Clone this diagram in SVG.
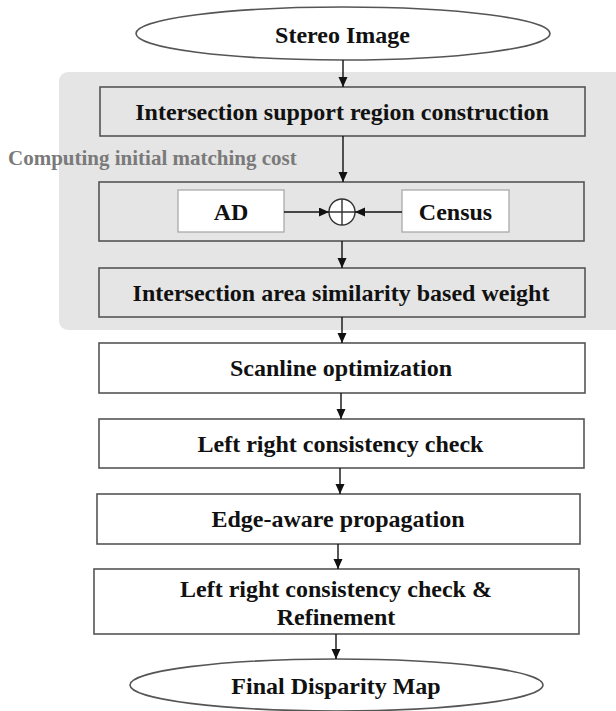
<svg xmlns="http://www.w3.org/2000/svg" width="616" height="711" viewBox="0 0 616 711">
<style>
.t{font-family:"Liberation Serif","Times New Roman",serif;font-weight:bold;font-size:24px;fill:#111;text-anchor:middle}
.s{font-family:"Liberation Serif","Times New Roman",serif;font-weight:bold;font-size:21px;fill:#7a7a7a}
.bx{fill:#fff;stroke:#555;stroke-width:1.6}
.gb{fill:#e5e5e5;stroke:#555;stroke-width:1.6}
.wb{fill:#fff;stroke:#aaa;stroke-width:1.3}
.el{fill:#fff;stroke:#555;stroke-width:1.6}
.c{stroke:#111;stroke-width:1.4;fill:none;marker-end:url(#ah)}
</style>
<defs>
<marker id="ah" markerUnits="userSpaceOnUse" markerWidth="11" markerHeight="10" refX="10" refY="4.5" orient="auto">
<path d="M0,0 L10,4.5 L0,9 z" fill="#111"/>
</marker>
</defs>
<rect width="616" height="711" fill="#fff"/>
<g id="group-cost">
<rect x="59" y="72" width="570" height="258" rx="9" fill="#e5e5e5"/>
<text class="s" x="8" y="165">Computing initial matching cost</text>
</g>
<g id="n-stereo">
<ellipse class="el" cx="343" cy="33.5" rx="207" ry="26.5"/>
<text class="t" x="342.5" y="43">Stereo Image</text>
</g>
<g id="n-support">
<rect class="gb" x="100" y="87" width="485" height="49"/>
<text class="t" x="342" y="120">Intersection support region construction</text>
</g>
<g id="n-cost">
<rect class="gb" x="99" y="182" width="485" height="59"/>
</g>
<g id="n-ad">
<rect class="wb" x="178" y="190" width="106" height="42"/>
<text class="t" x="231" y="220">AD</text>
</g>
<g id="n-census">
<rect class="wb" x="402" y="190" width="107" height="42"/>
<text class="t" x="455.5" y="220">Census</text>
</g>
<g id="n-sum">
<circle cx="342" cy="212" r="13" fill="#fff" stroke="#333" stroke-width="1.4"/>
<path d="M329,212 H355 M342,199 V225" stroke="#333" stroke-width="1.4"/>
</g>
<g id="n-weight">
<rect class="gb" x="99" y="268" width="486" height="49"/>
<text class="t" x="341" y="301">Intersection area similarity based weight</text>
</g>
<g id="n-scanline">
<rect class="bx" x="99" y="343" width="486" height="50"/>
<text class="t" x="341" y="376">Scanline optimization</text>
</g>
<g id="n-lrc">
<rect class="bx" x="99" y="419" width="485" height="49"/>
<text class="t" x="340.5" y="452">Left right consistency check</text>
</g>
<g id="n-edge">
<rect class="bx" x="97" y="494" width="483" height="50"/>
<text class="t" x="338" y="527">Edge-aware propagation</text>
</g>
<g id="n-refine">
<rect class="bx" x="94" y="569" width="485" height="65"/>
<text class="t" x="336" y="597">Left right consistency check &amp;</text>
<text class="t" x="336" y="625">Refinement</text>
</g>
<g id="n-final">
<ellipse class="el" cx="336.5" cy="685" rx="206.5" ry="26"/>
<text class="t" x="336" y="694">Final Disparity Map</text>
</g>
<g id="connectors">
<path class="c" d="M343,60 V87"/>
<path class="c" d="M343,136 V182"/>
<path class="c" d="M284,212 H329"/>
<path class="c" d="M402,212 H355"/>
<path class="c" d="M342,241 V268"/>
<path class="c" d="M342,317 V343"/>
<path class="c" d="M341,393 V419"/>
<path class="c" d="M340,468 V494"/>
<path class="c" d="M338,544 V569"/>
<path class="c" d="M336,634 V659"/>
</g>
</svg>
